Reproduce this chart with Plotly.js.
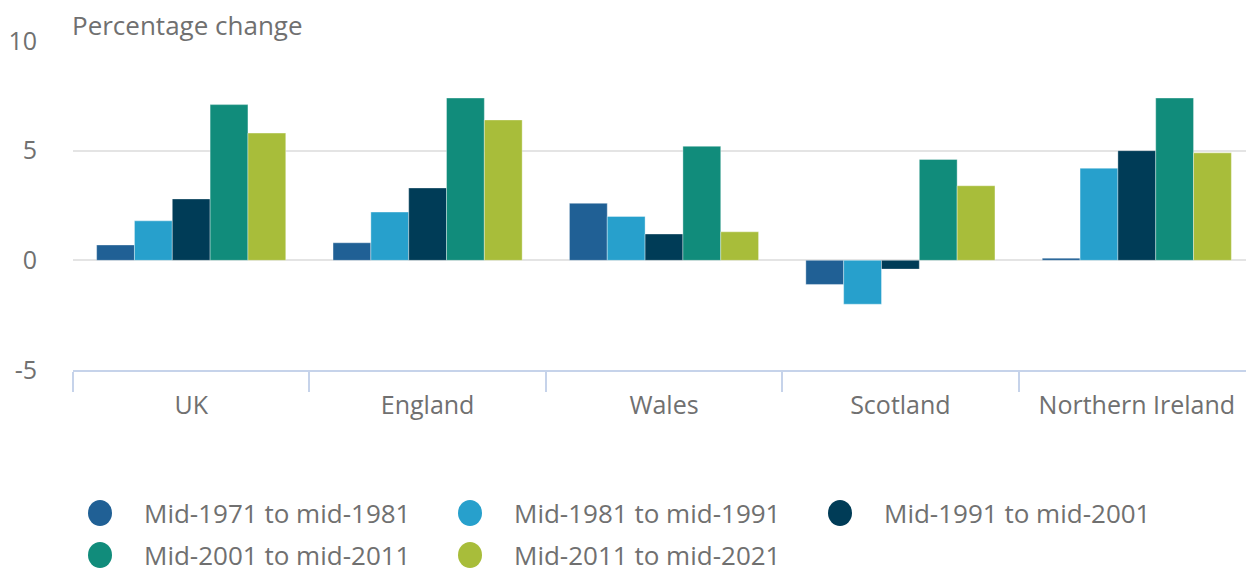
<!DOCTYPE html>
<html><head><meta charset="utf-8">
<script src="https://cdn.plot.ly/plotly-3.0.1.min.js"></script>
<style>html,body{margin:0;padding:0;background:#fff}#chart{width:1246px;height:578px}</style>
</head><body><div id="chart"></div>
<script>
const categories = ["UK", "England", "Wales", "Scotland", "Northern Ireland"];
const seriesNames = ["Mid-1971 to mid-1981", "Mid-1981 to mid-1991", "Mid-1991 to mid-2001", "Mid-2001 to mid-2011", "Mid-2011 to mid-2021"];
const s1971 = [0.7, 0.8, 2.6, -1.1, 0.1];
const s1981 = [1.8, 2.2, 2.0, -2.0, 4.2];
const s1991 = [2.8, 3.3, 1.2, -0.4, 5.0];
const s2001 = [7.1, 7.4, 5.2, 4.6, 7.4];
const s2011 = [5.8, 6.4, 1.3, 3.4, 4.9];
const yTicks = [-5, 0, 5, 10];
const colors = ["#206095", "#27a0cc", "#003c57", "#118c7b", "#a8bd3a"];
const seriesValues = [s1971, s1981, s1991, s2001, s2011];

const W = 1246, H = 578, mL = 73, mT = 41, mB = 208;
const plotW = 1173, plotH = H - mT - mB;
const px2x = p => (p - mL) / plotW;
const px2y = p => (H - mB - p) / plotH;

const traces = seriesValues.map((vals, i) => ({
  type: 'bar', x: categories, y: vals, name: seriesNames[i],
  marker: {color: colors[i], line: {width: 0.6, color: 'rgba(255,255,255,0.6)'}},
  showlegend: false, hoverinfo: 'x+y+name'
}));

const font = {family: '"Open Sans", sans-serif', color: '#707070'};
const shapes = [], annotations = [];
const legendPos = [[100, 513], [470, 513], [840, 513], [100, 555], [470, 555]];
seriesNames.forEach((n, i) => {
  const [cx, cy] = legendPos[i];
  shapes.push({type: 'circle', xref: 'paper', yref: 'paper', xsizemode: 'pixel', ysizemode: 'pixel',
    xanchor: px2x(cx), yanchor: px2y(cy), x0: -12, x1: 12, y0: -13, y1: 13,
    fillcolor: colors[i], line: {width: 0}});
  annotations.push({xref: 'paper', yref: 'paper', x: px2x(cx + 42), y: px2y(cy), xanchor: 'left', yanchor: 'middle',
    text: n, showarrow: false, font: Object.assign({}, font, {size: 26})});
});
annotations.push({xref: 'paper', yref: 'paper', x: px2x(70), y: px2y(25), xanchor: 'left', yanchor: 'middle',
  text: 'Percentage change', showarrow: false, font: Object.assign({}, font, {size: 26})});

const layout = {
  width: W, height: H,
  margin: {l: mL, r: 0, t: mT, b: mB, pad: 0},
  paper_bgcolor: '#fff', plot_bgcolor: '#fff',
  barmode: 'group', bargap: 0.2, bargroupgap: 0,
  font: font,
  xaxis: {
    type: 'category', range: [-0.5, -0.5 + plotW / 236.4],
    showline: true, linecolor: '#c6d3ea', linewidth: 2,
    ticks: 'outside', tickson: 'boundaries', ticklen: 20, tickwidth: 2, tickcolor: '#c6d3ea',
    ticklabelstandoff: 12,
    showgrid: false, tickfont: {size: 25, color: '#707070'}, fixedrange: true
  },
  yaxis: {
    range: [-5, 10], tickvals: yTicks, ticktext: yTicks.map(String),
    showgrid: true, gridcolor: '#e4e4e4', gridwidth: 2,
    zeroline: true, zerolinecolor: '#e4e4e4', zerolinewidth: 2,
    showline: false, ticks: '', ticklabelstandoff: 35,
    tickfont: {size: 25, color: '#707070'}, fixedrange: true
  },
  shapes: shapes, annotations: annotations, showlegend: false
};
Plotly.newPlot('chart', traces, layout, {displayModeBar: false, staticPlot: true});
</script></body></html>
